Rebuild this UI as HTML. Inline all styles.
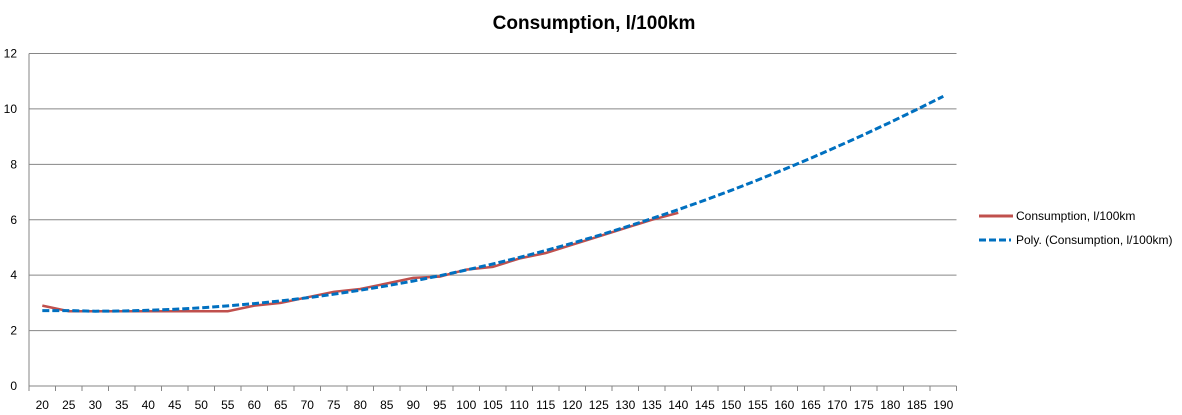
<!DOCTYPE html>
<html><head><meta charset="utf-8"><style>
html,body{margin:0;padding:0;background:#fff;width:1182px;height:415px;overflow:hidden}
svg{display:block;font-family:"Liberation Sans",sans-serif}
</style></head><body>
<svg id="s" width="1182" height="415" xmlns="http://www.w3.org/2000/svg">
<text x="594" y="29" text-anchor="middle" font-size="19" font-weight="bold" fill="#000">Consumption, l/100km</text>
<g id="g"></g>
<line x1="979" y1="216" x2="1013" y2="216" stroke="#c0504d" stroke-width="3"/>
<text x="1016" y="220" font-size="12" fill="#000">Consumption, l/100km</text>
<line x1="979" y1="240" x2="1011" y2="240" stroke="#0070c0" stroke-width="3" stroke-dasharray="7,3"/>
<text x="1016" y="244" font-size="12" fill="#000">Poly. (Consumption, l/100km)</text>
</svg>
<script>
var g=document.getElementById('g'),h='';
var L=29,R=956.5,T=53.5,B=386,n=35,w=(R-L)/n;
function Y(v){return B-(B-T)*v/12}
for(var i=0;i<=6;i++){var y=Y(i*2);h+='<line x1="'+L+'" y1="'+y+'" x2="'+R+'" y2="'+y+'" stroke="#868686" stroke-width="1"/>';
h+='<text x="17" y="'+(y+4)+'" font-size="12" text-anchor="end">'+(i*2)+'</text>';}
h+='<line x1="'+L+'" y1="'+T+'" x2="'+L+'" y2="'+B+'" stroke="#868686"/>';
for(var i=0;i<=n;i++){var x=L+w*i;h+='<line x1="'+x+'" y1="'+B+'" x2="'+x+'" y2="'+(B+5)+'" stroke="#868686"/>';}
for(var i=0;i<n;i++){var x=L+w*(i+0.5);h+='<text x="'+x+'" y="409" font-size="12" text-anchor="middle">'+(20+5*i)+'</text>';}
var red=[2.9,2.7,2.7,2.7,2.7,2.7,2.7,2.7,2.9,3.0,3.2,3.4,3.5,3.7,3.9,3.95,4.2,4.3,4.6,4.8,5.1,5.4,5.7,6.0,6.25];
var p='';for(var i=0;i<red.length;i++)p+=(i?'L':'M')+(L+w*(i+0.5)).toFixed(1)+','+Y(red[i]).toFixed(1);
h+='<path d="'+p+'" fill="none" stroke="#c0504d" stroke-width="2.5"/>';
p='';for(var i=0;i<n;i++){var v=20+5*i;var f=0.000303*Math.pow(Math.max(v-30,0),2)+2.7+(v<30?0.02:0);p+=(i?'L':'M')+(L+w*(i+0.5)).toFixed(1)+','+Y(f).toFixed(1);}
h+='<path d="'+p+'" fill="none" stroke="#0070c0" stroke-width="3" stroke-dasharray="7,3"/>';
g.innerHTML=h;
</script>
</body></html>
